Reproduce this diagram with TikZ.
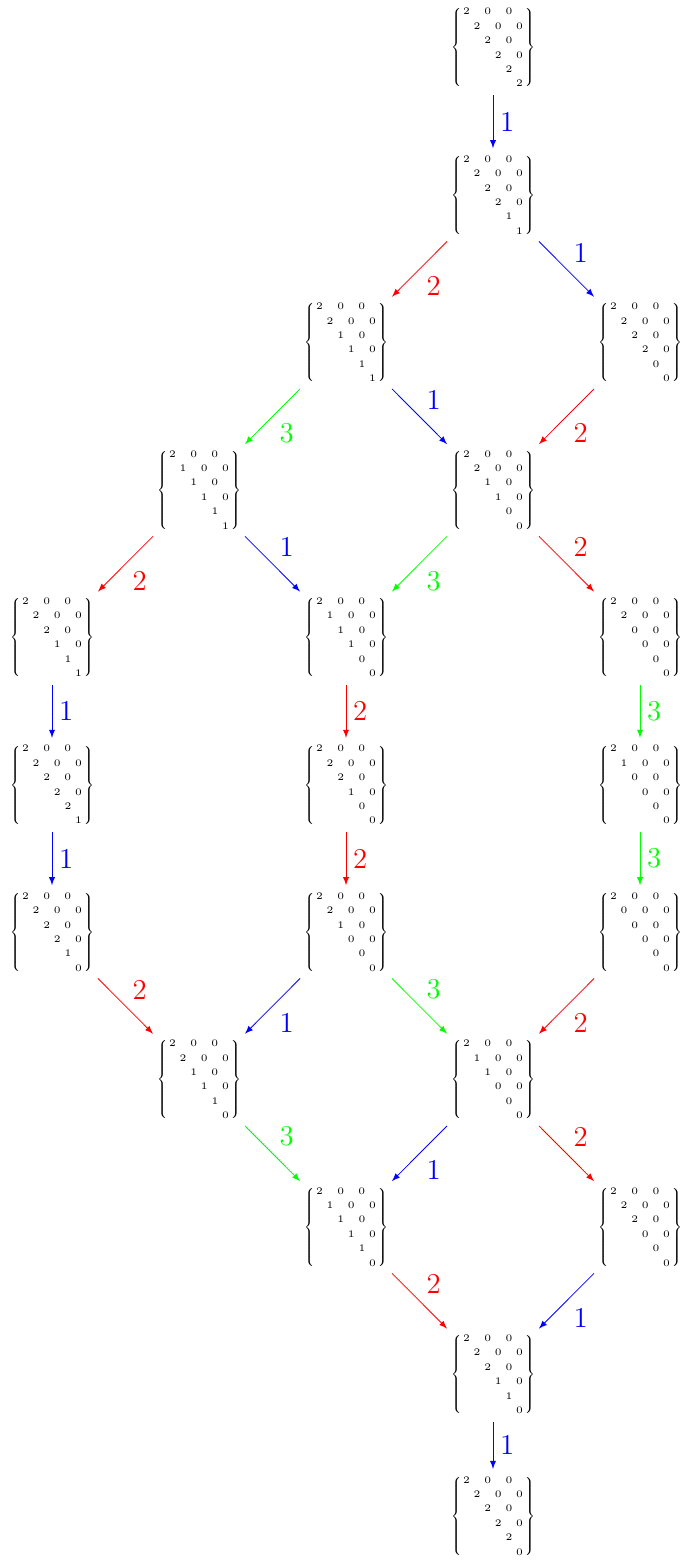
\documentclass[tikz,border=0pt]{standalone}
\usepackage{amsmath}
\usepackage{tikz}
\tikzstyle{tabl}=[font=\tiny, inner sep=0pt, outer sep=2pt]
\tikzstyle{labelsty}=[font=\Large, auto]
\tikzstyle{onee}=[-latex, blue]
\tikzstyle{twoe}=[-latex, red]
\tikzstyle{threee}=[-latex, green]
% one triangular pattern, first row is always 2 0 0
\newcommand{\patt}[5]{{\setlength\arraycolsep{0.95pt}\renewcommand\arraystretch{1.2}%
$\left\{\begin{array}{cccccc}
2&&0&&0&\\
&#1&&0&&0\\
&&#2&&0&\\
&&&#3&&0\\
&&&&#4&\\
&&&&&#5
\end{array}\right\}$}}

\begin{document}
\begin{tikzpicture}[x=73.5pt,y=-73.7pt]
\useasboundingbox (-26pt,24pt) rectangle (314.5pt,-759pt);

\node[tabl] (t1) at (3,0) {\patt{2}{2}{2}{2}{2}};
\node[tabl] (t2) at (3,1) {\patt{2}{2}{2}{1}{1}};
\node[tabl] (t3) at (2,2) {\patt{2}{1}{1}{1}{1}};
\node[tabl] (t4) at (4,2) {\patt{2}{2}{2}{0}{0}};
\node[tabl] (t5) at (1,3) {\patt{1}{1}{1}{1}{1}};
\node[tabl] (t6) at (3,3) {\patt{2}{1}{1}{0}{0}};
\node[tabl] (t7) at (0,4) {\patt{2}{2}{1}{1}{1}};
\node[tabl] (t8) at (2,4) {\patt{1}{1}{1}{0}{0}};
\node[tabl] (t9) at (4,4) {\patt{2}{0}{0}{0}{0}};
\node[tabl] (t10) at (0,5) {\patt{2}{2}{2}{2}{1}};
\node[tabl] (t11) at (2,5) {\patt{2}{2}{1}{0}{0}};
\node[tabl] (t12) at (4,5) {\patt{1}{0}{0}{0}{0}};
\node[tabl] (t13) at (0,6) {\patt{2}{2}{2}{1}{0}};
\node[tabl] (t14) at (2,6) {\patt{2}{1}{0}{0}{0}};
\node[tabl] (t15) at (4,6) {\patt{0}{0}{0}{0}{0}};
\node[tabl] (t16) at (1,7) {\patt{2}{1}{1}{1}{0}};
\node[tabl] (t17) at (3,7) {\patt{1}{1}{0}{0}{0}};
\node[tabl] (t18) at (2,8) {\patt{1}{1}{1}{1}{0}};
\node[tabl] (t19) at (4,8) {\patt{2}{2}{0}{0}{0}};
\node[tabl] (t20) at (3,9) {\patt{2}{2}{1}{1}{0}};
\node[tabl] (t21) at (3,9.96) {\patt{2}{2}{2}{2}{0}};

\draw[onee] (t1) -- node[labelsty]{1} (t2);
\draw[twoe] (t2) -- node[labelsty]{2} (t3);
\draw[onee] (t2) -- node[labelsty]{1} (t4);
\draw[threee] (t3) -- node[labelsty]{3} (t5);
\draw[onee] (t3) -- node[labelsty]{1} (t6);
\draw[twoe] (t4) -- node[labelsty]{2} (t6);
\draw[twoe] (t5) -- node[labelsty]{2} (t7);
\draw[onee] (t5) -- node[labelsty]{1} (t8);
\draw[threee] (t6) -- node[labelsty]{3} (t8);
\draw[twoe] (t6) -- node[labelsty]{2} (t9);
\draw[onee] (t7) -- node[labelsty]{1} (t10);
\draw[twoe] (t8) -- node[labelsty]{2} (t11);
\draw[threee] (t9) -- node[labelsty]{3} (t12);
\draw[onee] (t10) -- node[labelsty]{1} (t13);
\draw[twoe] (t11) -- node[labelsty]{2} (t14);
\draw[threee] (t12) -- node[labelsty]{3} (t15);
\draw[twoe] (t13) -- node[labelsty]{2} (t16);
\draw[onee] (t14) -- node[labelsty]{1} (t16);
\draw[threee] (t14) -- node[labelsty]{3} (t17);
\draw[twoe] (t15) -- node[labelsty]{2} (t17);
\draw[threee] (t16) -- node[labelsty]{3} (t18);
\draw[onee] (t17) -- node[labelsty]{1} (t18);
\draw[twoe] (t17) -- node[labelsty]{2} (t19);
\draw[twoe] (t18) -- node[labelsty]{2} (t20);
\draw[onee] (t19) -- node[labelsty]{1} (t20);
\draw[onee] (t20) -- node[labelsty]{1} (t21);
\end{tikzpicture}
\end{document}
